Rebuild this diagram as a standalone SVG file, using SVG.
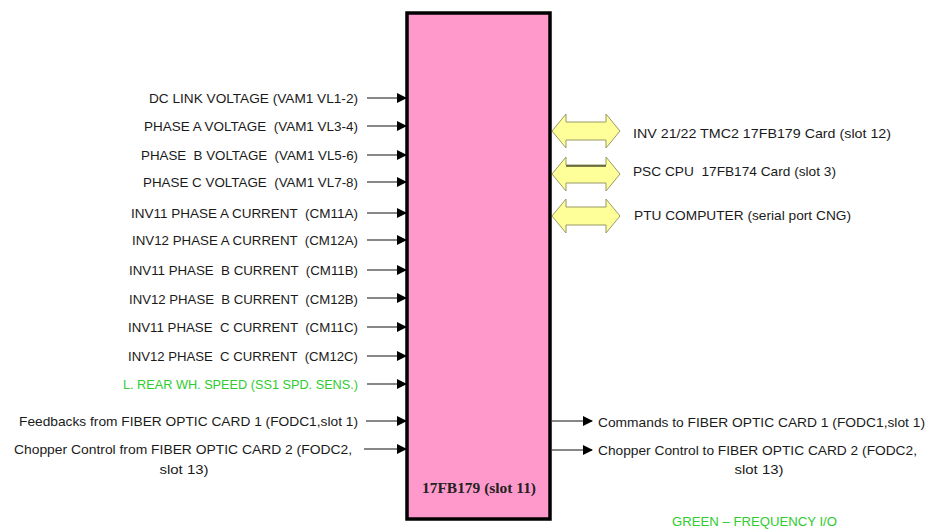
<svg xmlns="http://www.w3.org/2000/svg" width="927" height="529" viewBox="0 0 927 529">
<style>
.t{font-family:"Liberation Sans",Arial,sans-serif;font-size:13.5px;fill:#1a1a1a;white-space:pre}
.r{text-anchor:end}
.m{text-anchor:middle}
.g{fill:#2ecc2e}
.ln{stroke:#111;stroke-width:1.2;fill:none}
.dbl{fill:#ffff99;stroke:#999966;stroke-width:1}
</style>
<defs>
<marker id="ah" markerWidth="10" markerHeight="10" refX="9" refY="5" orient="auto" markerUnits="userSpaceOnUse">
<path d="M0,0 L10,5 L0,10 Z" fill="#000"/>
</marker>
<path id="dA" d="M0,0 L14,-17 L14,-9 L54,-9 L54,-17 L68,0 L54,17 L54,9 L14,9 L14,17 Z"/>
</defs>
<rect width="927" height="529" fill="#fff"/>

<g id="card">
<rect x="407" y="13" width="143" height="506" fill="#ff99cc" stroke="#000" stroke-width="3.5"/>
<text x="479" y="493" text-anchor="middle" textLength="114" lengthAdjust="spacingAndGlyphs" style="font-family:'Liberation Serif','Times New Roman',serif;font-size:14px;font-weight:bold;fill:#222">17FB179 (slot 11)</text>
</g>

<g id="connectors">
<line class="ln" x1="367" y1="98" x2="406" y2="98" marker-end="url(#ah)"/>
<line class="ln" x1="367" y1="126" x2="406" y2="126" marker-end="url(#ah)"/>
<line class="ln" x1="367" y1="155" x2="406" y2="155" marker-end="url(#ah)"/>
<line class="ln" x1="367" y1="182" x2="406" y2="182" marker-end="url(#ah)"/>
<line class="ln" x1="367" y1="213" x2="406" y2="213" marker-end="url(#ah)"/>
<line class="ln" x1="367" y1="240" x2="406" y2="240" marker-end="url(#ah)"/>
<line class="ln" x1="367" y1="270" x2="406" y2="270" marker-end="url(#ah)"/>
<line class="ln" x1="367" y1="298" x2="406" y2="298" marker-end="url(#ah)"/>
<line class="ln" x1="367" y1="327" x2="406" y2="327" marker-end="url(#ah)"/>
<line class="ln" x1="367" y1="356" x2="406" y2="356" marker-end="url(#ah)"/>
<line class="ln" x1="367" y1="384" x2="406" y2="384" marker-end="url(#ah)"/>
<line class="ln" x1="366" y1="421" x2="406" y2="421" marker-end="url(#ah)"/>
<line class="ln" x1="364" y1="449" x2="406" y2="449" marker-end="url(#ah)"/>
<line class="ln" x1="552" y1="421" x2="592" y2="421" marker-end="url(#ah)"/>
<line class="ln" x1="552" y1="450" x2="592" y2="450" marker-end="url(#ah)"/>
<use href="#dA" class="dbl" x="552" y="131"/>
<use href="#dA" class="dbl" x="552" y="174"/>
<line x1="566" y1="166" x2="606" y2="166" stroke="#000" stroke-width="1.2"/>
<use href="#dA" class="dbl" x="552" y="216"/>
</g>

<g id="inputs">
<text class="t r" x="358" y="103" textLength="209" lengthAdjust="spacingAndGlyphs">DC LINK VOLTAGE (VAM1 VL1-2)</text>
<text class="t r" x="358" y="131" textLength="214" lengthAdjust="spacingAndGlyphs">PHASE A VOLTAGE  (VAM1 VL3-4)</text>
<text class="t r" x="358" y="160" textLength="217" lengthAdjust="spacingAndGlyphs">PHASE  B VOLTAGE  (VAM1 VL5-6)</text>
<text class="t r" x="358" y="187" textLength="215" lengthAdjust="spacingAndGlyphs">PHASE C VOLTAGE  (VAM1 VL7-8)</text>
<text class="t r" x="358" y="218" textLength="227" lengthAdjust="spacingAndGlyphs">INV11 PHASE A CURRENT  (CM11A)</text>
<text class="t r" x="358" y="245" textLength="226" lengthAdjust="spacingAndGlyphs">INV12 PHASE A CURRENT  (CM12A)</text>
<text class="t r" x="358" y="275" textLength="229" lengthAdjust="spacingAndGlyphs">INV11 PHASE  B CURRENT  (CM11B)</text>
<text class="t r" x="358" y="304" textLength="229" lengthAdjust="spacingAndGlyphs">INV12 PHASE  B CURRENT  (CM12B)</text>
<text class="t r" x="358" y="332" textLength="230" lengthAdjust="spacingAndGlyphs">INV11 PHASE  C CURRENT  (CM11C)</text>
<text class="t r" x="358" y="361" textLength="230" lengthAdjust="spacingAndGlyphs">INV12 PHASE  C CURRENT  (CM12C)</text>
<text class="t r g" x="358" y="389" textLength="235" lengthAdjust="spacingAndGlyphs">L. REAR WH. SPEED (SS1 SPD. SENS.)</text>
<text class="t r" x="358" y="426" textLength="339" lengthAdjust="spacingAndGlyphs">Feedbacks from FIBER OPTIC CARD 1 (FODC1,slot 1)</text>
<text class="t r" x="352" y="454" textLength="338" lengthAdjust="spacingAndGlyphs">Chopper Control from FIBER OPTIC CARD 2 (FODC2,</text>
<text class="t m" x="184" y="474" textLength="49" lengthAdjust="spacingAndGlyphs">slot 13)</text>
</g>

<g id="links">
<text class="t" x="633" y="138" textLength="258" lengthAdjust="spacingAndGlyphs">INV 21/22 TMC2 17FB179 Card (slot 12)</text>
<text class="t" x="633" y="176" textLength="203" lengthAdjust="spacingAndGlyphs">PSC CPU  17FB174 Card (slot 3)</text>
<text class="t" x="634" y="220" textLength="217" lengthAdjust="spacingAndGlyphs">PTU COMPUTER (serial port CNG)</text>
</g>

<g id="outputs">
<text class="t" x="598" y="427" textLength="327" lengthAdjust="spacingAndGlyphs">Commands to FIBER OPTIC CARD 1 (FODC1,slot 1)</text>
<text class="t" x="598" y="455" textLength="319" lengthAdjust="spacingAndGlyphs">Chopper Control to FIBER OPTIC CARD 2 (FODC2,</text>
<text class="t m" x="759" y="474" textLength="49" lengthAdjust="spacingAndGlyphs">slot 13)</text>
</g>

<g id="legend">
<text class="t g" x="672" y="526" textLength="165" lengthAdjust="spacingAndGlyphs">GREEN – FREQUENCY I/O</text>
</g>
</svg>
